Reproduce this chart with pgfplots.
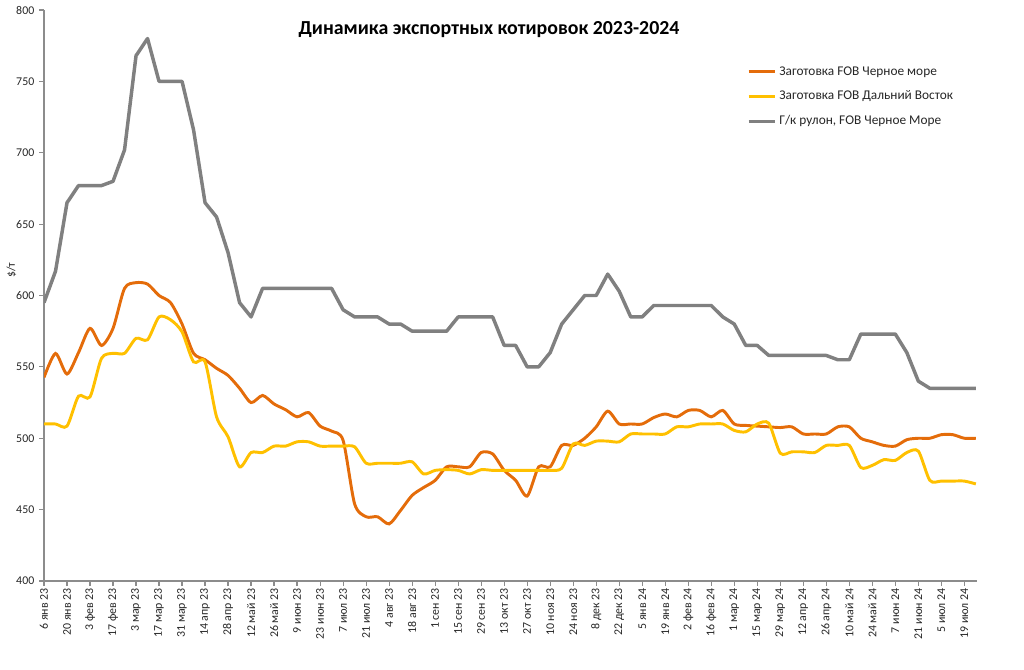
\documentclass[border=0pt]{standalone}
\usepackage{fontspec}
\setmainfont{Carlito}
\usepackage{pgfplots}
\pgfplotsset{compat=1.18}
\usepackage{pgfplotstable}

\definecolor{zagbs}{HTML}{E46C0A}
\definecolor{zagfe}{HTML}{FFC000}
\definecolor{hrcgray}{HTML}{808080}
\definecolor{axgray}{HTML}{8C8C8C}

% weekly quotes, week 0 = 6 Jan 2023
\pgfplotstableread{
wk  bs     fe     hrc
0   542.6  510    595
1   559.4  510    617
2   545    508.5  665
3   560    529.5  677
4   577    529    677
5   565    556    677
6   577    559.5  680
7   605    559.5  702
8   609    570    768
9   608    569    780
10  600    585    750
11  595    583    750
12  580    574.5  750
13  559.5  553.5  716
14  555    553.5  665
15  549    515    655
16  544    501    630
17  535    480    595
18  525    490    585
19  530    490    605
20  524    494.5  605
21  520    494.5  605
22  515    497.5  605
23  518    497.5  605
24  508.5  494.5  605
25  505    494.5  605
26  498.5  494.5  590
27  454    494    585
28  445    482.5  585
29  445    482.5  585
30  440    482.5  580
31  449.5  482.5  580
32  460    483.5  575
33  465.5  475    575
34  470.5  477.5  575
35  480    478    575
36  480    477.5  585
37  480    475    585
38  490    478    585
39  489    477.5  585
40  477.5  477.5  565
41  470.5  477.5  565
42  459.5  477.5  550
43  480    477.5  550
44  480    477.5  560
45  495    479    580
46  495    496    590
47  500    495    600
48  508    498    600
49  519    498    615
50  510    497.5  603
51  510    503    585
52  510    503    585
53  514.5  503    593
54  517    503    593
55  515    508    593
56  519.5  508    593
57  519.5  510    593
58  515    510    593
59  519.5  510    585
60  510    505.5  580
61  509    504.5  565
62  508.5  510    565
63  508    510.5  558
64  507.5  489.5  558
65  508    490.5  558
66  503    490.5  558
67  503    490    558
68  503    495    558
69  508    495    555
70  508    495    555
71  500    479.5  573
72  497.5  481    573
73  495    485    573
74  494.5  484.5  573
75  499    490    560
76  500    491    540
77  500    470.5  535
78  502.5  470    535
79  502.5  470    535
80  500    470    535
81  500    468    535
}\quotes

\begin{document}
\begin{tikzpicture}
\path[use as bounding box] (0,0) rectangle (768pt,-501.75pt);
\begin{axis}[
    at={(33pt,-7.5pt)}, anchor=north west,
    scale only axis, width=699.75pt, height=428.25pt,
    xmin=0, xmax=81.1, ymin=400, ymax=800,
    axis lines*=left,
    axis line style={axgray, line width=0.9pt},
    tick style={axgray, line width=0.9pt},
    tick align=outside, major tick length=3.75pt,
    xtick={0,2,...,80},
    xticklabels={6 янв 23,20 янв 23,3 фев 23,17 фев 23,3 мар 23,17 мар 23,
      31 мар 23,14 апр 23,28 апр 23,12 май 23,26 май 23,9 июн 23,23 июн 23,
      7 июл 23,21 июл 23,4 авг 23,18 авг 23,1 сен 23,15 сен 23,29 сен 23,
      13 окт 23,27 окт 23,10 ноя 23,24 ноя 23,8 дек 23,22 дек 23,5 янв 24,
      19 янв 24,2 фев 24,16 фев 24,1 мар 24,15 мар 24,29 мар 24,12 апр 24,
      26 апр 24,10 май 24,24 май 24,7 июн 24,21 июн 24,5 июл 24,19 июл 24},
    xticklabel style={rotate=90, anchor=east, font=\fontsize{8.9}{10}\selectfont,
      text=black!85, inner sep=1.5pt},
    ytick={400,450,...,800},
    yticklabel style={font=\fontsize{8.9}{10}\selectfont, text=black!85},
    /pgf/number format/assume math mode=true,
    /pgf/number format/1000 sep={},
    legend cell align=left,
    legend style={at={(rel axis cs:0.749,0.911)}, anchor=north west,
      draw=none, fill=none, font=\fontsize{10}{12}\selectfont,
      row sep=6.3pt, text=black!85},
    legend image code/.code={\draw[#1, line width=2.2pt] (0pt,0pt) -- (20pt,0pt);},
]
\addplot[zagbs, line width=2.2pt, smooth, tension=0.45] table[x=wk, y=bs] {\quotes};
\addlegendentry{Заготовка FOB Черное море}
\addplot[zagfe, line width=2.2pt, smooth, tension=0.45] table[x=wk, y=fe] {\quotes};
\addlegendentry{Заготовка FOB Дальний Восток}
\addplot[hrcgray, line width=2.6pt, line join=round] table[x=wk, y=hrc] {\quotes};
\addlegendentry{Г/к рулон, FOB Черное Море}
\end{axis}
\node[font=\bfseries\fontsize{14.9}{17}\selectfont] at (366.75pt,-22.5pt)
  {Динамика экспортных котировок 2023-2024};
\node[rotate=90, font=\fontsize{8.9}{10}\selectfont, text=black!85] at (8.5pt,-202.5pt) {\$/т};
\end{tikzpicture}
\end{document}
